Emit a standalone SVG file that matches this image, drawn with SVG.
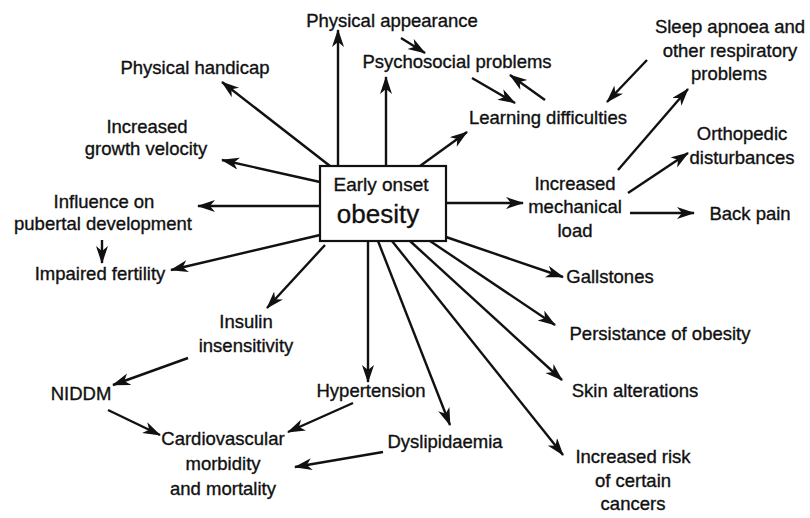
<svg xmlns="http://www.w3.org/2000/svg" width="810" height="518" viewBox="0 0 810 518">
<defs>
<marker id="ah" markerUnits="userSpaceOnUse" markerWidth="20" markerHeight="14" refX="17" refY="6" orient="auto">
<path d="M0,0 L18,6 L0,12 L5,6 z" fill="#111"/>
</marker>
<style>
text{font-family:"Liberation Sans",Arial,sans-serif;font-size:18.5px;fill:#111;stroke:#111;stroke-width:0.35;text-anchor:middle}
.c line{stroke:#111;stroke-width:2.4;fill:none;marker-end:url(#ah)}
.box{fill:#fff;stroke:#111;stroke-width:2.2}
</style>
</defs>
<rect width="810" height="518" fill="#fff"/>
<g id="connectors" class="c">
<line x1="338" y1="166" x2="338" y2="30"/>
<line x1="386" y1="166" x2="386" y2="77"/>
<line x1="401" y1="38" x2="425" y2="53"/>
<line x1="472" y1="78" x2="515" y2="103"/>
<line x1="545" y1="100" x2="510" y2="75"/>
<line x1="420" y1="166" x2="467" y2="132"/>
<line x1="647" y1="60" x2="607" y2="102"/>
<line x1="618" y1="170" x2="688" y2="89"/>
<line x1="628" y1="193" x2="688" y2="153"/>
<line x1="630" y1="213" x2="694" y2="213"/>
<line x1="446" y1="203" x2="523" y2="203"/>
<line x1="446" y1="237" x2="563" y2="277"/>
<line x1="430" y1="241" x2="555" y2="325"/>
<line x1="410" y1="241" x2="562" y2="380"/>
<line x1="392" y1="241" x2="563" y2="455"/>
<line x1="378" y1="241" x2="450" y2="425"/>
<line x1="368" y1="241" x2="368" y2="382"/>
<line x1="325" y1="245" x2="267" y2="308"/>
<line x1="320" y1="235" x2="171" y2="270"/>
<line x1="320" y1="206" x2="198" y2="206"/>
<line x1="102" y1="240" x2="102" y2="263"/>
<line x1="320" y1="182" x2="222" y2="160"/>
<line x1="330" y1="166" x2="222" y2="82"/>
<line x1="188" y1="358" x2="113" y2="385"/>
<line x1="108" y1="410" x2="160" y2="435"/>
<line x1="353" y1="403" x2="288" y2="432"/>
<line x1="383" y1="452" x2="295" y2="467"/>
</g>
<g id="early-onset-obesity">
<rect class="box" x="320" y="166" width="126" height="75"/>
<text x="381" y="191" style="font-size:19px">Early onset</text>
<text x="378" y="223" style="font-size:26px">obesity</text>
</g>
<g id="physical-appearance"><text x="392" y="27">Physical appearance</text></g>
<g id="psychosocial-problems"><text x="457" y="68">Psychosocial problems</text></g>
<g id="physical-handicap"><text x="195" y="74">Physical handicap</text></g>
<g id="learning-difficulties"><text x="548" y="124">Learning difficulties</text></g>
<g id="sleep-apnoea"><text x="730" y="33">Sleep apnoea and</text><text x="730" y="57">other respiratory</text><text x="729" y="80">problems</text></g>
<g id="orthopedic"><text x="742" y="140">Orthopedic</text><text x="742" y="164">disturbances</text></g>
<g id="mechanical-load"><text x="575" y="190">Increased</text><text x="575" y="213">mechanical</text><text x="575" y="237">load</text></g>
<g id="back-pain"><text x="750" y="220">Back pain</text></g>
<g id="growth-velocity"><text x="147" y="133">Increased</text><text x="146" y="155">growth velocity</text></g>
<g id="pubertal-development"><text x="104" y="208">Influence on</text><text x="103" y="230">pubertal development</text></g>
<g id="impaired-fertility"><text x="100" y="280">Impaired fertility</text></g>
<g id="gallstones"><text x="610" y="283">Gallstones</text></g>
<g id="persistance"><text x="660" y="340">Persistance of obesity</text></g>
<g id="insulin-insensitivity"><text x="246" y="328">Insulin</text><text x="246" y="352">insensitivity</text></g>
<g id="niddm"><text x="81" y="400">NIDDM</text></g>
<g id="hypertension"><text x="371" y="397">Hypertension</text></g>
<g id="skin-alterations"><text x="635" y="397">Skin alterations</text></g>
<g id="dyslipidaemia"><text x="445" y="448">Dyslipidaemia</text></g>
<g id="cardiovascular"><text x="223" y="445">Cardiovascular</text><text x="223" y="470">morbidity</text><text x="223" y="495">and mortality</text></g>
<g id="cancers"><text x="633" y="463">Increased risk</text><text x="633" y="487">of certain</text><text x="633" y="510">cancers</text></g>
</svg>
